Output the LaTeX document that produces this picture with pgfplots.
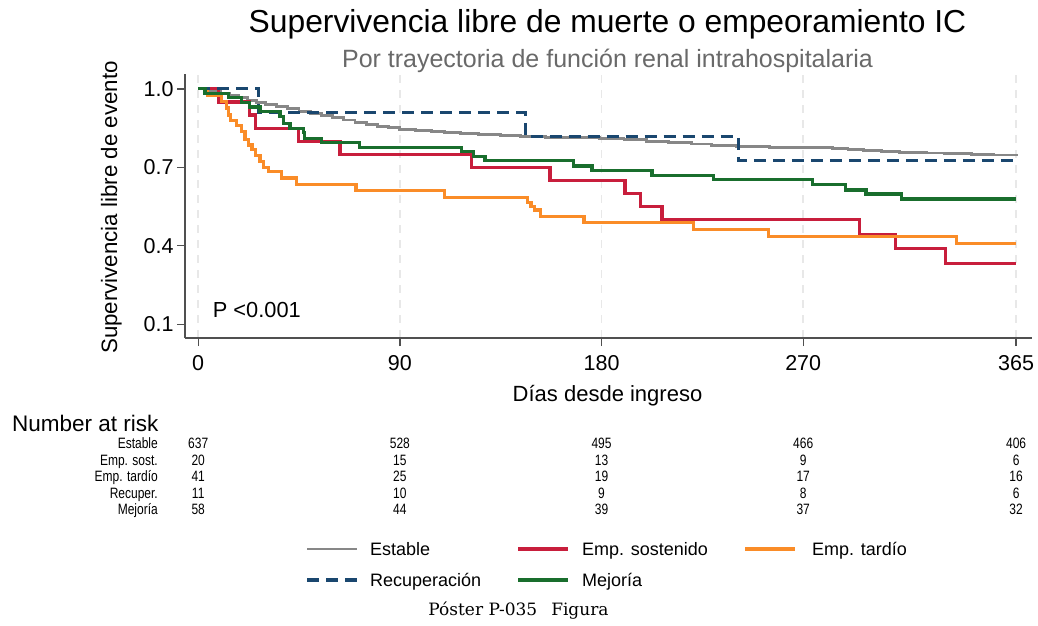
\documentclass[border=0pt]{standalone}
\usepackage{fontspec}
\setmainfont{Liberation Sans}
\newfontfamily\narrowfont[FakeStretch=0.8]{Liberation Sans}
\newfontfamily\capfont{DejaVu Serif}
\usepackage{pgfplots}
\pgfplotsset{compat=1.18}
\definecolor{cEst}{RGB}{135,135,135}
\definecolor{cSos}{RGB}{200,30,60}
\definecolor{cTar}{RGB}{250,140,40}
\definecolor{cRec}{RGB}{26,71,111}
\definecolor{cMej}{RGB}{25,110,45}
\definecolor{axc}{RGB}{80,80,80}
\definecolor{subc}{RGB}{105,105,105}
\newcommand{\fs}[1]{\fontsize{#1}{#1}\selectfont}
\begin{document}
\begin{tikzpicture}
\useasboundingbox (0,0) rectangle (1038pt,-626pt);
\begin{axis}[
 at={(185pt,-338pt)}, anchor=south west,
 scale only axis, width=847pt, height=264pt,
 xmin=-5.9, xmax=372.1, ymin=0.047, ymax=1.057,
 axis x line*=bottom, axis y line*=left,
 axis line style={-, draw=axc, line width=1.3pt},
 xtick={0,90,180,270,365}, ytick={0.1,0.4,0.7,1.0},
 tick align=outside, major tick length=8pt,
 tick style={draw=axc, line width=1.3pt},
 yticklabel style={/pgf/number format/fixed, /pgf/number format/fixed zerofill, /pgf/number format/precision=1},
 ticklabel style={font=\fs{21.5}},
 /pgf/number format/assume math mode=true,
 xticklabel style={yshift=-6pt},
 xmajorgrids, major x grid style={draw=black!9, line width=1.8pt, dash pattern=on 8pt off 7pt},
 clip=false,
 every axis plot/.append style={const plot, line width=3.2pt},
]
% Estable
\addplot[cEst, line width=2.8pt] coordinates {(0,1.0) (3,0.995) (6,0.99) (10,0.982) (14,0.975) (18,0.966) (22,0.957) (26,0.947) (30,0.94) (35,0.932) (40,0.924) (45,0.915) (50,0.906) (55,0.898) (60,0.89) (65,0.881) (70,0.872) (75,0.863) (80,0.856) (85,0.851) (90,0.846) (97,0.841) (104,0.836) (110,0.833) (117,0.83) (125,0.826) (135,0.821) (144,0.817) (155,0.815) (165,0.813) (179,0.81) (190,0.805) (200,0.799) (210,0.794) (220,0.789) (229,0.783) (240,0.779) (255,0.777) (268,0.776) (283,0.773) (290,0.768) (297,0.763) (305,0.759) (313,0.756) (325,0.755) (333,0.753) (345,0.75) (355,0.747) (365,0.745)};
% Emp. sostenido
\addplot[cSos] coordinates {(0,1) (9,0.95) (23,0.90) (25.5,0.85) (44.6,0.80) (63.3,0.75) (122,0.70) (157,0.65) (190.5,0.60) (197.2,0.55) (207,0.50) (295,0.444) (311,0.389) (333.5,0.333) (365,0.333)};
% Emp. tardio
\addplot[cTar] coordinates {(0,1) (4,0.976) (10.4,0.951) (12.7,0.927) (13.6,0.90) (14.3,0.878) (17.1,0.86) (19.4,0.837) (20.9,0.805) (22.5,0.785) (24,0.768) (25.6,0.745) (27.6,0.722) (29.3,0.70) (31.3,0.683) (37.2,0.659) (44,0.634) (70.4,0.610) (110,0.585) (147,0.565) (148.5,0.55) (150,0.537) (152.6,0.512) (172.2,0.488) (221,0.462) (254.5,0.436) (338.3,0.409) (365,0.409)};
% Recuperacion
\addplot[cRec, dash pattern=on 12pt off 7pt] coordinates {(0,1) (27,0.909) (146,0.818) (241,0.727) (365,0.727)};
% Mejoria
\addplot[cMej] coordinates {(0,1) (3,0.983) (13.4,0.966) (19.4,0.948) (23,0.931) (27.6,0.914) (36.5,0.895) (38,0.869) (41,0.849) (47,0.833) (47.5,0.811) (55,0.795) (72,0.777) (117.6,0.760) (122.8,0.741) (128,0.726) (167.5,0.705) (175.7,0.687) (202.5,0.668) (230,0.652) (274,0.633) (289,0.613) (298,0.598) (314,0.579) (365,0.579)};
\coordinate (t0) at (axis cs:0,0.5);
\coordinate (t90) at (axis cs:90,0.5);
\coordinate (t180) at (axis cs:180,0.5);
\coordinate (t270) at (axis cs:270,0.5);
\coordinate (t365) at (axis cs:365,0.5);
\end{axis}
% titles
\node[anchor=base, font=\fs{31.8}] at (607.5pt,-33pt) {Supervivencia libre de muerte o empeoramiento IC};
\node[anchor=base, font=\fs{25}, text=subc] at (607.5pt,-67pt) {Por trayectoria de función renal intrahospitalaria};
\node[anchor=base, font=\fs{22}] at (607.5pt,-401pt) {Días desde ingreso};
\node[anchor=base, rotate=90, font=\fs{22.3}] at (117pt,-207.5pt) {Supervivencia libre de evento};
\node[anchor=base west, font=\fs{21.8}, inner sep=0pt] at (212.7pt,-317.3pt) {P <0.001};
% number at risk
\node[anchor=base west, font=\fs{22.5}, inner sep=0pt] at (12pt,-431pt) {Number at risk};
\foreach \lab/\yy/\a/\b/\c/\d/\e in {Estable/-448.5pt/637/528/495/466/406, Emp. sost./-465pt/20/15/13/9/6, Emp. tardío/-481.5pt/41/25/19/17/16, Recuper./-498pt/11/10/9/8/6, Mejoría/-514.5pt/58/44/39/37/32}{
  \node[anchor=base east, font=\narrowfont\fs{15}, inner sep=0pt] at (158pt,\yy) {\lab};
  \node[anchor=base, font=\narrowfont\fs{15}, inner sep=0pt] at (t0 |- 0pt,\yy) {\a};
  \node[anchor=base, font=\narrowfont\fs{15}, inner sep=0pt] at (t90 |- 0pt,\yy) {\b};
  \node[anchor=base, font=\narrowfont\fs{15}, inner sep=0pt] at (t180 |- 0pt,\yy) {\c};
  \node[anchor=base, font=\narrowfont\fs{15}, inner sep=0pt] at (t270 |- 0pt,\yy) {\d};
  \node[anchor=base, font=\narrowfont\fs{15}, inner sep=0pt] at (t365 |- 0pt,\yy) {\e};
}
% legend
\draw[cEst, line width=2.8pt] (307pt,-549pt) -- (357pt,-549pt);
\node[anchor=base west, font=\fs{18}, inner sep=0pt] at (370pt,-555.5pt) {Estable};
\draw[cSos, line width=3.2pt] (518pt,-549pt) -- (568pt,-549pt);
\node[anchor=base west, font=\fs{18}, inner sep=0pt] at (582pt,-555.5pt) {Emp. sostenido};
\draw[cTar, line width=3.2pt] (745pt,-549pt) -- (795pt,-549pt);
\node[anchor=base west, font=\fs{18}, inner sep=0pt] at (812pt,-555.5pt) {Emp. tardío};
\draw[cRec, line width=3.2pt, dash pattern=on 12pt off 7pt] (307pt,-580pt) -- (357pt,-580pt);
\node[anchor=base west, font=\fs{18}, inner sep=0pt] at (370pt,-586.5pt) {Recuperación};
\draw[cMej, line width=3.2pt] (518pt,-580pt) -- (568pt,-580pt);
\node[anchor=base west, font=\fs{18}, inner sep=0pt] at (582pt,-586.5pt) {Mejoría};
% caption
\node[anchor=base, font=\capfont\fs{17}, inner sep=0pt] at (518.5pt,-615pt) {Póster P-035\hspace{14pt}Figura};
\end{tikzpicture}
\end{document}
